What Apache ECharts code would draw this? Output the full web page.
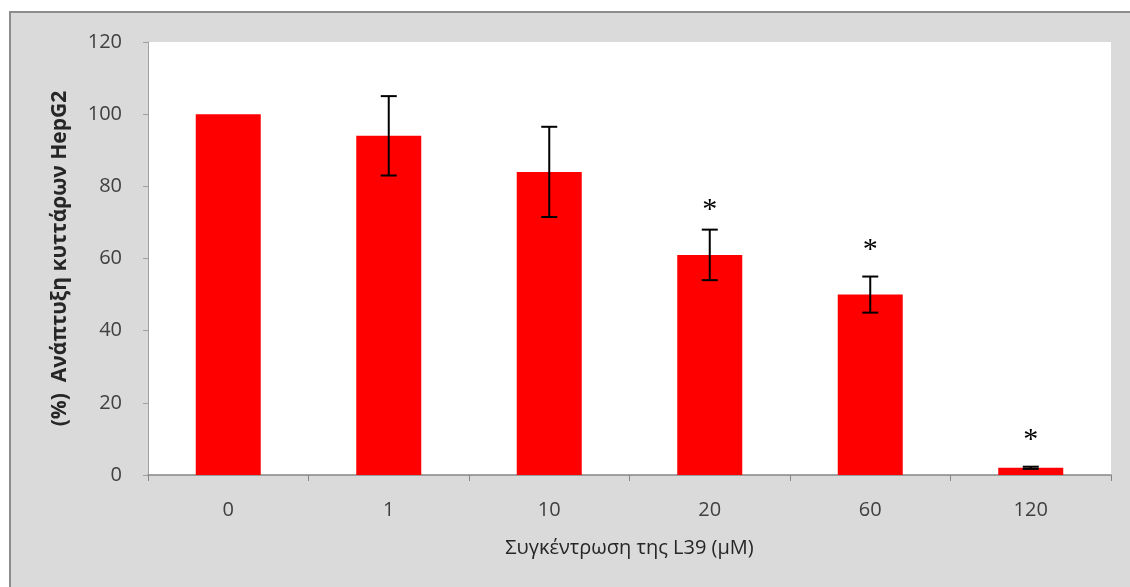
<!DOCTYPE html>
<html>
<head>
<meta charset="utf-8">
<script src="https://cdn.jsdelivr.net/npm/echarts@6/dist/echarts.min.js"></script>
<style>
html,body{margin:0;padding:0;background:#ffffff;}
#chart{width:1130px;height:587px;}
</style>
</head>
<body>
<div id="chart"></div>
<script>
// Data
const categories = ['0', '1', '10', '20', '60', '120'];
const growth = [100, 94, 84, 61, 50, 2];
const errors = [0, 11, 12.5, 7, 5, 0.3];
const significance = ['', '', '', '*', '*', '*'];
const significanceAt = [null, null, null, 74.5, 63.5, 10.8];
const yTicks = { min: 0, max: 120, interval: 20 };

const chart = echarts.init(document.getElementById('chart'), null, { renderer: 'canvas' });
const FONT = '"Open Sans", "Noto Sans", "DejaVu Sans", sans-serif';

const errData = categories.map((c, i) => [i, growth[i], errors[i], significanceAt[i] == null ? 0 : significanceAt[i]]);

const option = {
  animation: false,
  backgroundColor: '#ffffff',
  graphic: [
    {
      type: 'rect', z: -10, silent: true,
      shape: { x: 10, y: 12, width: 1125, height: 580 },
      style: { fill: '#dadada', stroke: '#8c8c8c', lineWidth: 2 }
    }
  ],
  grid: {
    left: 148, right: 19, top: 42, bottom: 112,
    show: true, backgroundColor: '#ffffff', borderWidth: 0
  },
  xAxis: {
    type: 'category',
    data: categories,
    name: 'Συγκέντρωση της L39 (μM)',
    nameLocation: 'middle',
    nameGap: 63,
    nameTextStyle: { fontFamily: FONT, fontSize: 20, color: '#262626' },
    axisLine: { show: true, lineStyle: { color: '#868686', width: 1.5 } },
    axisTick: { show: true, alignWithLabel: false, length: 6, lineStyle: { color: '#868686' } },
    axisLabel: { fontFamily: FONT, fontSize: 20, color: '#404040', margin: 25 },
    splitLine: { show: false }
  },
  yAxis: {
    type: 'value',
    min: yTicks.min, max: yTicks.max, interval: yTicks.interval,
    name: '(%)  Ανάπτυξη κυττάρων HepG2',
    nameLocation: 'middle',
    nameGap: 77,
    nameRotate: 90,
    nameTextStyle: { fontFamily: FONT, fontSize: 21, fontWeight: 'bold', color: '#262626' },
    axisLine: { show: true, lineStyle: { color: '#a0a0a0', width: 1 } },
    axisTick: { show: true, length: 5, lineStyle: { color: '#a0a0a0' } },
    axisLabel: { fontFamily: FONT, fontSize: 20, color: '#404040', margin: 26 },
    splitLine: { show: false }
  },
  series: [
    {
      type: 'bar',
      data: growth,
      barWidth: 65,
      itemStyle: { color: '#ff0000' },
      z: 2
    },
    {
      type: 'custom',
      data: errData,
      z: 5,
      renderItem: function (params, api) {
        const i = api.value(0);
        const m = api.value(1);
        const e = api.value(2);
        const sig = significance[params.dataIndex];
        const top = api.coord([i, m + e]);
        const bot = api.coord([i, m - e]);
        const half = 8;
        const children = [];
        if (e > 0) {
          const s = { stroke: '#000000', lineWidth: 2 };
          children.push({ type: 'line', shape: { x1: top[0], y1: top[1], x2: bot[0], y2: bot[1] }, style: s });
          children.push({ type: 'line', shape: { x1: top[0] - half, y1: top[1], x2: top[0] + half, y2: top[1] }, style: s });
          children.push({ type: 'line', shape: { x1: bot[0] - half, y1: bot[1], x2: bot[0] + half, y2: bot[1] }, style: s });
        }
        if (sig) {
          const p = api.coord([i, api.value(3)]);
          children.push({
            type: 'text',
            x: p[0], y: p[1] + 4,
            style: {
              text: sig, fill: '#000000', fontSize: 30, fontFamily: '"Liberation Serif", serif',
              align: 'center', verticalAlign: 'middle'
            }
          });
        }
        return { type: 'group', children: children };
      }
    }
  ]
};
chart.setOption(option);
</script>
</body>
</html>
